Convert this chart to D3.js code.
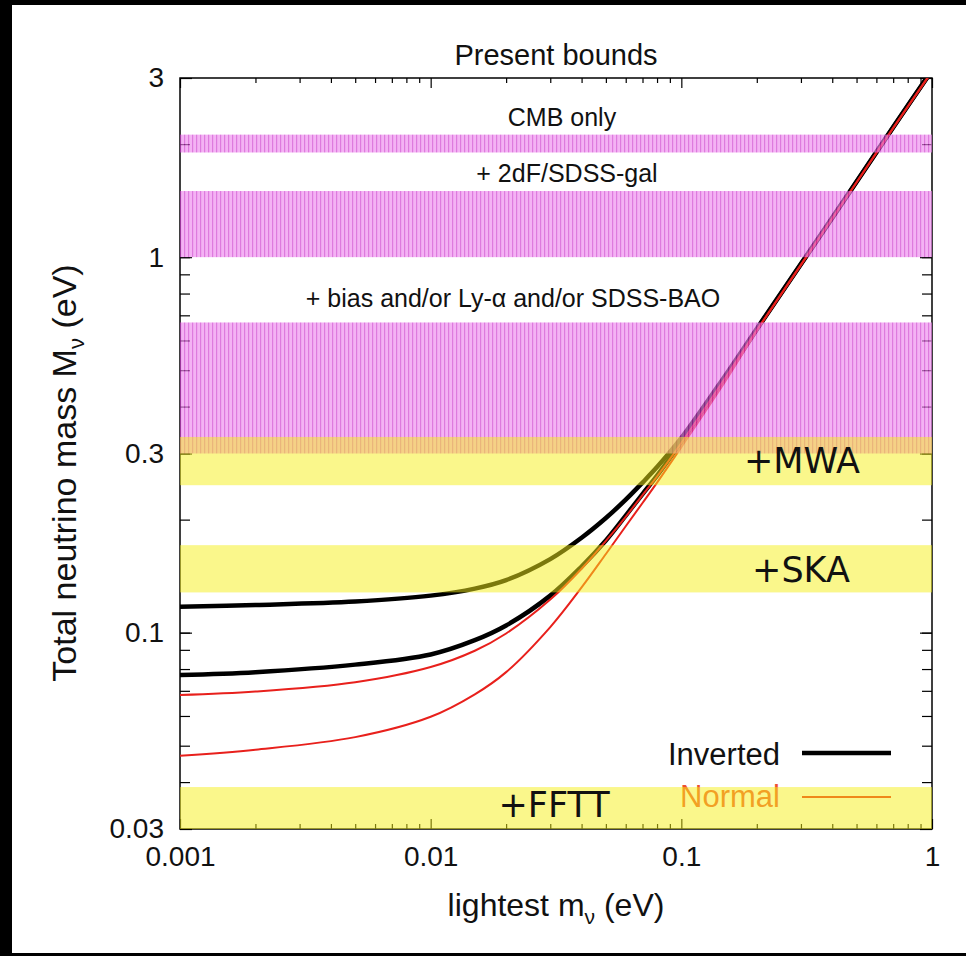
<!DOCTYPE html>
<html>
<head>
<meta charset="utf-8">
<script src="https://cdn.jsdelivr.net/npm/d3@7"></script>
<style>
  body { margin: 0; background: #000; }
  svg { display: block; }
</style>
</head>
<body>
<div id="chart"></div>
<script>
// lightest neutrino mass (eV), read along the x axis
const lightest = [0.001, 0.002, 0.005, 0.01, 0.015, 0.02, 0.03, 0.04, 0.05, 0.06, 0.07, 0.08, 0.1, 0.15, 0.2, 0.3, 0.5, 0.7, 1];
// total mass (eV) for the four curves
const invertedHigh = [0.1172, 0.1185, 0.121, 0.1255, 0.131, 0.138, 0.157, 0.179, 0.202, 0.226, 0.251, 0.276, 0.33, 0.485, 0.645, 0.96, 1.59, 2.22, 3.15];
const invertedLow = [0.0771, 0.0785, 0.0822, 0.0875, 0.0955, 0.1045, 0.1255, 0.150, 0.176, 0.205, 0.234, 0.262, 0.322, 0.48, 0.642, 0.957, 1.585, 2.215, 3.14];
const normalHigh = [0.0682, 0.0697, 0.0738, 0.081, 0.0895, 0.0995, 0.1225, 0.148, 0.1755, 0.2035, 0.2325, 0.2605, 0.32, 0.478, 0.64, 0.955, 1.583, 2.21, 3.13];
const normalLow = [0.0470, 0.0488, 0.0527, 0.0597, 0.0685, 0.0785, 0.1035, 0.132, 0.162, 0.192, 0.2215, 0.251, 0.312, 0.468, 0.636, 0.952, 1.58, 2.205, 3.12];

// present bounds (pink hatched bands)
const presentNames = ["CMB only", "+ 2dF/SDSS-gal", "+ bias and/or Ly-\u03b1 and/or SDSS-BAO"];
const presentLow = [1.9, 1.0, 0.30];
const presentHigh = [2.12, 1.5, 0.67];

// future sensitivities (yellow bands)
const futureNames = ["+MWA", "+SKA", "+FFTT"];
const futureLow = [0.247, 0.128, 0.03];
const futureHigh = [0.332, 0.171, 0.0388];

const xMajor = [0.001, 0.01, 0.1, 1];
const yMajor = [0.03, 0.1, 0.3, 1, 3];

const W = 966, H = 956;
const font = "'Liberation Sans', Arial, Helvetica, sans-serif";

const x = d3.scaleLog().domain([0.001, 1]).range([180, 932]);
const y = d3.scaleLog().domain([0.03, 3]).range([829, 78]);

const xMinor = [];
[0.001, 0.01, 0.1].forEach(d => { for (let k = 2; k <= 9; k++) xMinor.push(d * k); });
const yMinor = [];
[0.01, 0.1, 1].forEach(d => { for (let k = 1; k <= 9; k++) { const v = d * k; if (v > 0.031 && v < 2.99) yMinor.push(v); } });

const svg = d3.select("#chart").append("svg").attr("width", W).attr("height", H);

svg.append("rect").attr("width", W).attr("height", H).attr("fill", "#000");
svg.append("rect").attr("x", 12).attr("y", 5).attr("width", W - 12).attr("height", 948).attr("fill", "#fff");

const defs = svg.append("defs");
defs.append("clipPath").attr("id", "plotClip")
  .append("rect").attr("x", 180).attr("y", 78).attr("width", 752).attr("height", 751);

const pat = defs.append("pattern")
  .attr("id", "pinkHatch")
  .attr("patternUnits", "userSpaceOnUse")
  .attr("width", 4).attr("height", 20);
pat.append("rect").attr("width", 4).attr("height", 20).attr("fill", "#ee88ee");
pat.append("rect").attr("width", 1.2).attr("height", 20).attr("fill", "#cc33cc");

// frame and ticks
const tickStyle = g => {
  g.select(".domain").remove();
  g.selectAll("line").attr("stroke", "#000").attr("stroke-width", 1.2);
  g.selectAll("text").attr("font-family", font).attr("font-size", 28).attr("fill", "#111");
};

svg.append("g").attr("transform", "translate(0,829)")
  .call(d3.axisBottom(x).tickValues(xMinor).tickSize(-5).tickFormat(""))
  .call(tickStyle);
svg.append("g").attr("transform", "translate(0,78)")
  .call(d3.axisTop(x).tickValues(xMinor).tickSize(-5).tickFormat(""))
  .call(tickStyle);
svg.append("g").attr("transform", "translate(0,829)")
  .call(d3.axisBottom(x).tickValues(xMajor).tickSize(-10).tickPadding(17).tickFormat(d3.format("~g")))
  .call(tickStyle);
svg.append("g").attr("transform", "translate(0,78)")
  .call(d3.axisTop(x).tickValues(xMajor).tickSize(-10).tickFormat(""))
  .call(tickStyle);

svg.append("g").attr("transform", "translate(180,0)")
  .call(d3.axisLeft(y).tickValues(yMinor).tickSize(-10).tickFormat(""))
  .call(tickStyle);
svg.append("g").attr("transform", "translate(932,0)")
  .call(d3.axisRight(y).tickValues(yMinor).tickSize(-10).tickFormat(""))
  .call(tickStyle);
svg.append("g").attr("transform", "translate(180,0)")
  .call(d3.axisLeft(y).tickValues(yMajor).tickSize(-12).tickPadding(16).tickFormat(d3.format("~g")))
  .call(tickStyle);
svg.append("g").attr("transform", "translate(932,0)")
  .call(d3.axisRight(y).tickValues(yMajor).tickSize(-12).tickFormat(""))
  .call(tickStyle);

svg.append("rect")
  .attr("x", 180).attr("y", 78).attr("width", 752).attr("height", 751)
  .attr("fill", "none").attr("stroke", "#000").attr("stroke-width", 1.5);

// curves
const curves = [
  { values: invertedHigh, color: "#000", width: 4.5 },
  { values: invertedLow, color: "#000", width: 4.5 },
  { values: normalHigh, color: "#e8201c", width: 2 },
  { values: normalLow, color: "#e8201c", width: 2 }
];
const line = d3.line()
  .x(d => x(d[0]))
  .y(d => y(d[1]))
  .curve(d3.curveCatmullRom.alpha(0.5));

const curveG = svg.append("g").attr("clip-path", "url(#plotClip)");
curveG.selectAll("path")
  .data(curves)
  .join("path")
  .attr("d", c => line(lightest.map((m, i) => [m, c.values[i]])))
  .attr("fill", "none")
  .attr("stroke", c => c.color)
  .attr("stroke-width", c => c.width)
  .attr("stroke-linecap", "round");

// legend
const legend = svg.append("g").attr("font-family", font).attr("font-size", 31);
legend.append("text").attr("x", 780).attr("y", 765).attr("text-anchor", "end").attr("fill", "#111").text("Inverted");
legend.append("line").attr("x1", 802).attr("x2", 891).attr("y1", 753).attr("y2", 753)
  .attr("stroke", "#000").attr("stroke-width", 4.5);
legend.append("text").attr("x", 780).attr("y", 807).attr("text-anchor", "end").attr("fill", "#ee5030").text("Normal");
legend.append("line").attr("x1", 802).attr("x2", 891).attr("y1", 797).attr("y2", 797)
  .attr("stroke", "#e8201c").attr("stroke-width", 2);

// present bounds bands
const bandG = svg.append("g").attr("clip-path", "url(#plotClip)");
bandG.selectAll("rect.present")
  .data(presentNames)
  .join("rect")
  .attr("class", "present")
  .attr("x", 180).attr("width", 752)
  .attr("y", (d, i) => y(presentHigh[i]))
  .attr("height", (d, i) => y(presentLow[i]) - y(presentHigh[i]))
  .attr("fill", "url(#pinkHatch)")
  .attr("opacity", 0.65);

bandG.selectAll("rect.future")
  .data(futureNames)
  .join("rect")
  .attr("class", "future")
  .attr("x", 180).attr("width", 752)
  .attr("y", (d, i) => y(futureHigh[i]))
  .attr("height", (d, i) => y(futureLow[i]) - y(futureHigh[i]))
  .attr("fill", "#f6f018")
  .attr("opacity", 0.5);

// band labels
const presentLabelPos = [[562, 126], [567, 182], [513, 307]];
svg.append("g").selectAll("text")
  .data(presentNames)
  .join("text")
  .attr("x", (d, i) => presentLabelPos[i][0])
  .attr("y", (d, i) => presentLabelPos[i][1])
  .attr("text-anchor", "middle")
  .attr("font-family", font)
  .attr("font-size", 25)
  .attr("fill", "#111")
  .text(d => d);

const futureLabelPos = [[802, 473], [801, 582], [554, 817]];
svg.append("g").selectAll("text")
  .data(futureNames)
  .join("text")
  .attr("x", (d, i) => futureLabelPos[i][0])
  .attr("y", (d, i) => futureLabelPos[i][1])
  .attr("text-anchor", "middle")
  .attr("font-family", "'DejaVu Sans', sans-serif")
  .attr("font-size", 35)
  .attr("fill", "#111")
  .text(d => d);

// titles
svg.append("text")
  .attr("x", 556).attr("y", 65)
  .attr("text-anchor", "middle")
  .attr("font-family", font).attr("font-size", 29).attr("fill", "#111")
  .text("Present bounds");

const xt = svg.append("text")
  .attr("x", 556).attr("y", 916)
  .attr("text-anchor", "middle")
  .attr("font-family", font).attr("font-size", 32).attr("fill", "#111");
xt.append("tspan").text("lightest m");
xt.append("tspan").attr("dy", 8).attr("font-size", 21).text("\u03bd");
xt.append("tspan").attr("dy", -8).text(" (eV)");

const yt = svg.append("text")
  .attr("transform", "translate(76,473) rotate(-90)")
  .attr("text-anchor", "middle")
  .attr("font-family", font).attr("font-size", 34).attr("fill", "#111");
yt.append("tspan").text("Total neutrino mass M");
yt.append("tspan").attr("dy", 8).attr("font-size", 22).text("\u03bd");
yt.append("tspan").attr("dy", -8).text(" (eV)");
</script>
</body>
</html>
